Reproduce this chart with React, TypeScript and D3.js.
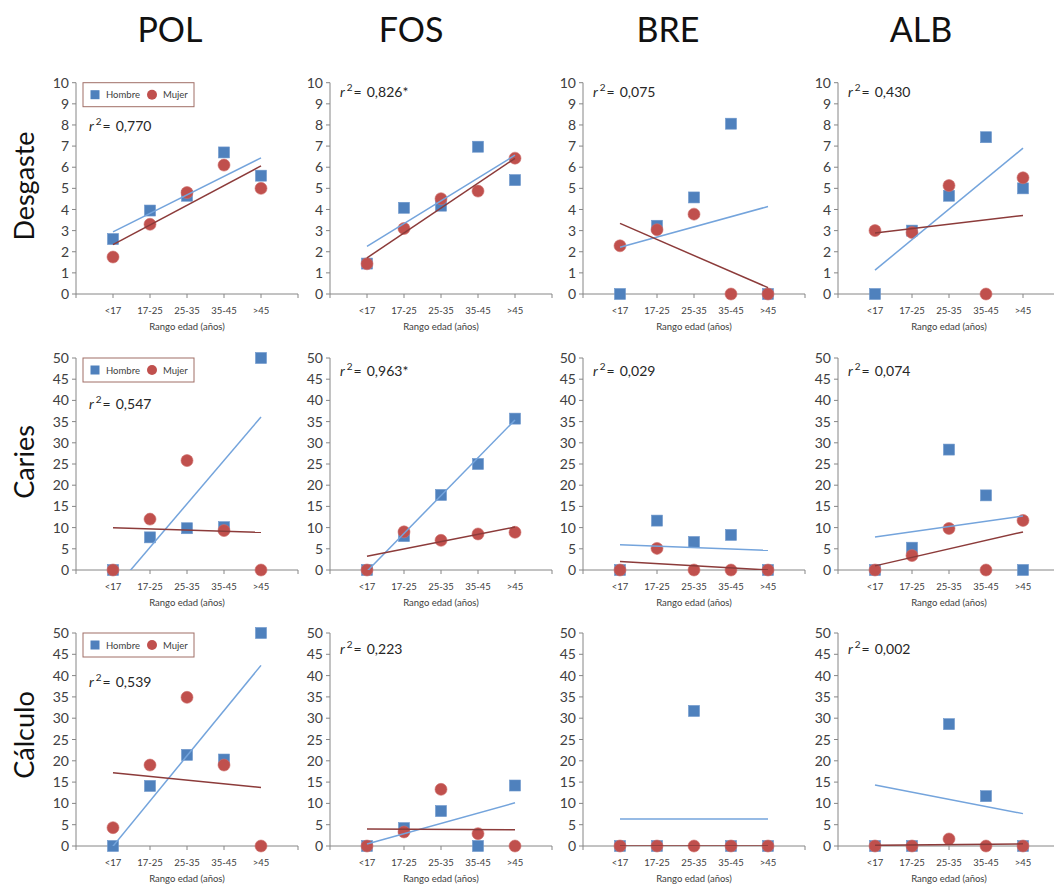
import React from "react";
import * as d3 from "d3";

// ---------- DATA ----------
const categories = ["<17", "17-25", "25-35", "35-45", ">45"];
const columns = ["POL", "FOS", "BRE", "ALB"];
const rows = ["Desgaste", "Caries", "Cálculo"];
const rowMax = [10, 50, 50];
const rowStep = [1, 5, 5];

// Hombre values [row][col][category]
const hombreDesgaste = [
  [2.6, 3.95, 4.65, 6.7, 5.6],
  [1.44, 4.08, 4.18, 6.97, 5.39],
  [0, 3.23, 4.57, 8.06, 0],
  [0, 3.0, 4.65, 7.42, 5.0],
];
const hombreCaries = [
  [0, 7.7, 9.85, 10.1, 50],
  [0, 8.0, 17.7, 25.0, 35.7],
  [0, 11.65, 6.6, 8.27, 0],
  [0, 5.26, 28.4, 17.6, 0],
];
const hombreCalculo = [
  [0, 14.1, 21.4, 20.3, 50],
  [0, 4.2, 8.2, 0, 14.2],
  [0, 0, 31.7, 0, 0],
  [0, 0, 28.6, 11.7, 0],
];
// Mujer values
const mujerDesgaste = [
  [1.75, 3.3, 4.8, 6.1, 5.0],
  [1.43, 3.1, 4.51, 4.87, 6.43],
  [2.28, 3.04, 3.78, 0, 0],
  [3.0, 2.91, 5.13, 0, 5.5],
];
const mujerCaries = [
  [0, 12.0, 25.8, 9.3, 0],
  [0, 9.0, 7.0, 8.5, 8.9],
  [0, 5.1, 0, 0, 0],
  [0, 3.4, 9.8, 0, 11.7],
];
const mujerCalculo = [
  [4.3, 19.0, 34.9, 19.0, 0],
  [0, 3.3, 13.3, 2.9, 0],
  [0, 0, 0, 0, 0],
  [0, 0, 1.65, 0, 0],
];
// Trend lines: value at first (<17) and last (>45) category
const hombreTrend = [
  [[2.94, 6.44], [2.25, 6.57], [2.21, 4.14], [1.13, 6.9]],
  [[-4.9, 36.1], [-0.3, 35.4], [5.98, 4.63], [7.78, 12.72]],
  [[-0.04, 42.4], [0.47, 10.15], [6.34, 6.34], [14.3, 7.6]],
];
const mujerTrend = [
  [[2.34, 6.06], [1.71, 6.42], [3.34, 0.3], [2.89, 3.72]],
  [[9.95, 8.88], [3.22, 10.14], [2.0, 0.0], [0.97, 8.98]],
  [[17.18, 13.74], [3.98, 3.82], [0, 0], [0.15, 0.5]],
];
const r2Labels = [
  ["0,770", "0,826*", "0,075", "0,430"],
  ["0,547", "0,963*", "0,029", "0,074"],
  ["0,539", "0,223", "", "0,002"],
];

const hombreValues = [hombreDesgaste, hombreCaries, hombreCalculo];
const mujerValues = [mujerDesgaste, mujerCaries, mujerCalculo];

// ---------- LAYOUT ----------
const W = 1054;
const H = 888;
const colAxisX = [76, 330, 583, 838];
const rowTop = [82.7, 358, 633];
const rowBottom = [294, 570, 846];
const titleX = [170, 411, 668, 921];
const rowLabelY = [186, 462, 735];
const r2BaseFirst = [131, 409, 687];
const r2BaseOther = [97, 376, 654];
const FONT = "Lato, 'Open Sans', sans-serif";
const BLUE = "#4F81BD";
const RED = "#C0504D";
const BLUE_LINE = "#74A4DC";
const RED_LINE = "#8C3B3A";
const AXIS = "#868686";
const TXT = "#404040";

function Panel({ r, c }: { r: number; c: number }) {
  const ax = colAxisX[c];
  const x = d3.scaleLinear().domain([0, 6]).range([ax, ax + 222]);
  const y = d3.scaleLinear().domain([0, rowMax[r]]).range([rowBottom[r], rowTop[r]]);
  const ticks = d3.range(0, rowMax[r] + rowStep[r] / 2, rowStep[r]);
  const line = d3
    .line<[number, number]>()
    .x((d) => x(d[0]))
    .y((d) => y(d[1]));
  const clipId = `clip-${r}-${c}`;
  const hv = hombreValues[r][c];
  const mv = mujerValues[r][c];
  const ht = hombreTrend[r][c];
  const mt = mujerTrend[r][c];
  const bottom = rowBottom[r];
  const sq = 11;
  const r2x = ax + (c === 0 ? 13 : 10);
  const r2y = c === 0 ? r2BaseFirst[r] : r2BaseOther[r];
  return (
    <g>
      <defs>
        <clipPath id={clipId}>
          <rect x={ax} y={rowTop[r] - 2} width={222} height={bottom - rowTop[r] + 2} />
        </clipPath>
      </defs>
      {/* y axis */}
      <line x1={ax} x2={ax} y1={y(rowMax[r])} y2={bottom} stroke={AXIS} strokeWidth={1} />
      {ticks.map((t) => (
        <g key={t}>
          <line x1={ax - 4} x2={ax} y1={y(t)} y2={y(t)} stroke={AXIS} strokeWidth={1} />
          <text x={ax - 7} y={y(t)} dy="0.36em" textAnchor="end" fontSize={14} fill={TXT} fontFamily={FONT}>
            {t}
          </text>
        </g>
      ))}
      {/* x axis */}
      <line x1={ax} x2={x(6)} y1={bottom} y2={bottom} stroke={AXIS} strokeWidth={1} />
      {d3.range(0, 7).map((i) => (
        <line key={i} x1={x(i)} x2={x(i)} y1={bottom} y2={bottom + 4} stroke={AXIS} strokeWidth={1} />
      ))}
      {categories.map((cat, i) => (
        <text key={cat} x={x(i + 1)} y={bottom + 19.5} textAnchor="middle" fontSize={9.5} fill={TXT} fontFamily={FONT}>
          {cat}
        </text>
      ))}
      <text x={x(3)} y={bottom + 35.5} textAnchor="middle" fontSize={9.5} fill={TXT} fontFamily={FONT}>
        Rango edad (años)
      </text>
      {/* markers */}
      {hv.map((v, i) => (
        <rect key={"h" + i} x={x(i + 1) - sq / 2} y={y(v) - sq / 2} width={sq} height={sq} fill={BLUE} stroke="#6E97CC" strokeWidth={0.6} />
      ))}
      {mv.map((v, i) => (
        <circle key={"m" + i} cx={x(i + 1)} cy={y(v)} r={6} fill={RED} stroke="#CF6E6B" strokeWidth={0.6} />
      ))}
      {/* trend lines */}
      <g clipPath={`url(#${clipId})`}>
        <path d={line([[1, ht[0]], [5, ht[1]]]) || ""} stroke={BLUE_LINE} strokeWidth={1.5} fill="none" />
        <path d={line([[1, mt[0]], [5, mt[1]]]) || ""} stroke={RED_LINE} strokeWidth={1.5} fill="none" />
      </g>
      {/* r2 */}
      {r2Labels[r][c] !== "" && (
        <text x={r2x} y={r2y} fontSize={14} fill="#262626" fontFamily={FONT}>
          <tspan fontStyle="italic">r</tspan>
          <tspan dx={2} dy={-6} fontSize={10}>2</tspan>
          <tspan dx={1} dy={6}>=</tspan>
          <tspan dx={5}>{r2Labels[r][c]}</tspan>
        </text>
      )}
      {/* legend */}
      {c === 0 && (
        <g>
          <rect x={ax + 7} y={rowTop[r]} width={111} height={24} fill="white" stroke="#A06E66" strokeWidth={1} />
          <rect x={ax + 19 - 4.5} y={rowTop[r] + 12 - 4.5} width={9} height={9} fill={BLUE} />
          <text x={ax + 30} y={rowTop[r] + 15.5} fontSize={9.5} fill={TXT} fontFamily={FONT}>
            Hombre
          </text>
          <circle cx={ax + 76} cy={rowTop[r] + 12} r={5} fill={RED} />
          <text x={ax + 87} y={rowTop[r] + 15.5} fontSize={9.5} fill={TXT} fontFamily={FONT}>
            Mujer
          </text>
        </g>
      )}
    </g>
  );
}

export default function App() {
  return (
    <svg
      width={W}
      height={H}
      viewBox={`0 0 ${W} ${H}`}
      style={{ position: "absolute", left: 0, top: 0, background: "white" }}
    >
      <rect x={0} y={0} width={W} height={H} fill="white" />
      {columns.map((t, c) => (
        <text key={t} x={titleX[c]} y={42} textAnchor="middle" fontSize={34} fill="#111" fontFamily={FONT}>
          {t}
        </text>
      ))}
      {rows.map((t, r) => (
        <text
          key={t}
          transform={`translate(34,${rowLabelY[r]}) rotate(-90)`}
          textAnchor="middle"
          fontSize={27}
          fill="#111"
          fontFamily={FONT}
        >
          {t}
        </text>
      ))}
      {rows.map((_, r) => columns.map((__, c) => <Panel key={`${r}-${c}`} r={r} c={c} />))}
    </svg>
  );
}
